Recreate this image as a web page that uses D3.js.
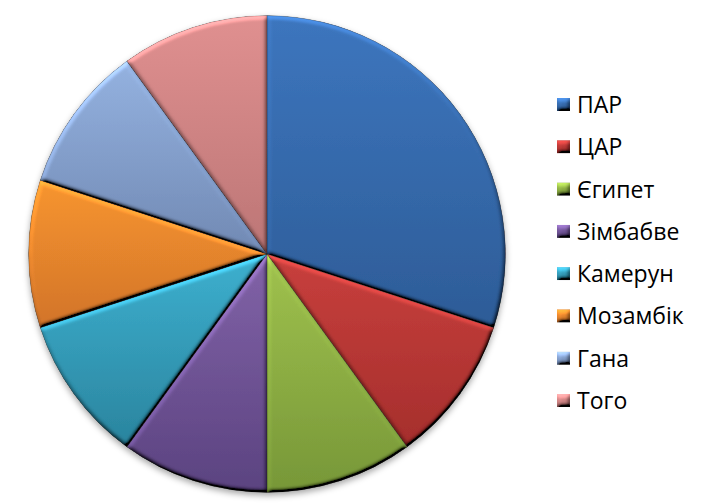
<!DOCTYPE html>
<html><head><meta charset="utf-8">
<script src="https://cdn.jsdelivr.net/npm/d3@7"></script>
<style>html,body{margin:0;padding:0;background:#fff;}svg{display:block;}</style>
</head><body>
<svg id="chart" width="704" height="503"></svg>
<script>
const categories = ["ПАР","ЦАР","Єгипет","Зімбабве","Камерун","Мозамбік","Гана","Того"];
const values = [3,1,1,1,1,1,1,1];
const topColors = ["#3D76BE","#C8403D","#A0C24E","#8263A8","#3DB0CF","#F7952F","#94B2E0","#E09090"];
const bottomColors = ["#2D5C97","#A52E2C","#779738","#5B4380","#2A849E","#D2742A","#7189B3","#BC7676"];

const svg = d3.select("#chart");
const defs = svg.append("defs");

// bevel filter
const bev = defs.append("filter").attr("id","bevel").attr("x","-5%").attr("y","-5%").attr("width","110%").attr("height","110%");
bev.append("feGaussianBlur").attr("in","SourceAlpha").attr("stdDeviation",2).attr("result","blur");
const dl = bev.append("feDiffuseLighting").attr("in","blur").attr("surfaceScale",3).attr("diffuseConstant",1).attr("lighting-color","#fff").attr("result","light");
dl.append("feDistantLight").attr("azimuth",250).attr("elevation",35);
bev.append("feComposite").attr("in","SourceGraphic").attr("in2","light").attr("operator","arithmetic")
  .attr("k1",1/Math.sin(35*Math.PI/180)).attr("k2",0).attr("k3",0).attr("k4",0).attr("result","lit");
bev.append("feComposite").attr("in","lit").attr("in2","SourceAlpha").attr("operator","in");

const sh = defs.append("filter").attr("id","shadow").attr("x","-10%").attr("y","-10%").attr("width","120%").attr("height","125%");
sh.append("feDropShadow").attr("dx",0).attr("dy",3).attr("stdDeviation",3).attr("flood-color","#000").attr("flood-opacity",0.35);

categories.forEach((c,i)=>{
  const g = defs.append("linearGradient").attr("id","grad"+i).attr("x1",0).attr("y1",0).attr("x2",0).attr("y2",1);
  g.append("stop").attr("offset","0%").attr("stop-color",topColors[i]);
  g.append("stop").attr("offset","100%").attr("stop-color",bottomColors[i]);
});

const cx = 267, cy = 254, r = 238.5;
const pie = d3.pie().sort(null).value(d=>d.v).startAngle(0).endAngle(2*Math.PI);
const arc = d3.arc().innerRadius(0).outerRadius(r);
const data = categories.map((c,i)=>({c, v: values[i], i}));

const pg = svg.append("g").attr("transform",`translate(${cx},${cy})`).attr("filter","url(#shadow)");
pg.selectAll("path").data(pie(data)).join("path")
  .attr("d",arc)
  .attr("fill",d=>`url(#grad${d.data.i})`)
  .attr("stroke","rgba(0,0,0,0.35)")
  .attr("stroke-width",0.8)
  .attr("filter","url(#bevel)");

// legend
const lg = svg.append("g").attr("transform","translate(557,98)");
const y = d3.scalePoint().domain(categories).range([0, 296]);
const items = lg.selectAll("g").data(data).join("g").attr("transform",d=>`translate(0,${y(d.c)})`);
items.append("rect").attr("width",13).attr("height",13)
  .attr("fill",d=>`url(#grad${d.i})`).attr("filter","url(#bevel)");
items.append("text").attr("x",20).attr("y",15)
  .attr("font-family","'Open Sans', sans-serif").attr("font-size",23)
  .attr("fill","#000").text(d=>d.c);
</script>
</body></html>
